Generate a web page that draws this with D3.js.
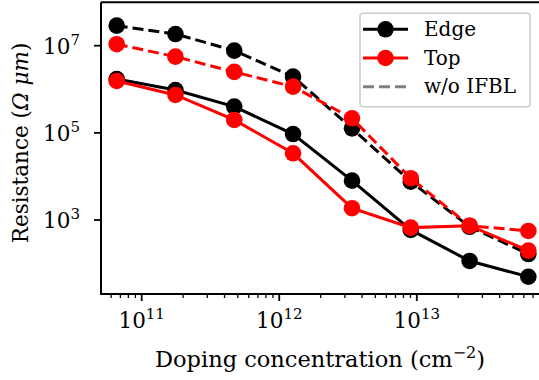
<!DOCTYPE html>
<html>
<head>
<meta charset="utf-8">
<script src="https://cdn.jsdelivr.net/npm/d3@7"></script>
<style>
  body { margin: 0; background: #fff; }
  svg { display: block; font-family: "DejaVu Serif", serif; }
</style>
</head>
<body>
<div id="chart"></div>
<script>
// doping concentration (cm^-2)
const doping = [6.58e10, 1.76e11, 4.71e11, 1.26e12, 3.38e12, 9.04e12, 2.42e13, 6.47e13];
// resistance (Ohm um)
const edge = [1.72e6, 9.6e5, 4.0e5, 9.4e4, 8.0e3, 593, 115, 50];
const top_ = [1.55e6, 7.4e5, 1.98e5, 3.4e4, 1.87e3, 670, 741, 199];
const edgeNoIFBL = [2.88e7, 1.85e7, 7.7e6, 1.95e6, 1.27e5, 7.6e3, 700, 166];
const topNoIFBL = [1.08e7, 5.6e6, 2.5e6, 1.15e6, 2.16e5, 9.1e3, 741, 562];

const xTickExps = [11, 12, 13];
const yTickExps = [3, 5, 7];

const width = 539, height = 380;
const plot = { left: 101, top: 2.3, right: 544, bottom: 294 };

const svg = d3.select("#chart").append("svg")
  .attr("width", width)
  .attr("height", height);

const x = d3.scaleLog().domain([5.06e10, 8.41e13]).range([plot.left, plot.right]);
const y = d3.scaleLog().domain([20.1, 9.89e7]).range([plot.bottom, plot.top]);

// series, drawn in this order
const series = [
  { values: edge, color: "#000", dashed: false },
  { values: edgeNoIFBL, color: "#000", dashed: true },
  { values: top_, color: "#ff0000", dashed: false },
  { values: topNoIFBL, color: "#ff0000", dashed: true },
];

const line = d3.line().x(d => x(d[0])).y(d => y(d[1]));

series.forEach(s => {
  const pts = doping.map((d, i) => [d, s.values[i]]);
  const g = svg.append("g");
  g.append("path")
    .attr("d", line(pts))
    .attr("fill", "none")
    .attr("stroke", s.color)
    .attr("stroke-width", 3)
    .attr("stroke-dasharray", s.dashed ? "11,5" : null);
  g.selectAll("circle").data(pts).join("circle")
    .attr("cx", d => x(d[0]))
    .attr("cy", d => y(d[1]))
    .attr("r", 8.3)
    .attr("fill", s.color);
});

// x ticks (major + minor)
const xAxis = svg.append("g").attr("transform", `translate(0,${plot.bottom})`);
const minorX = [];
for (let e = 10; e <= 13; e++) {
  for (let m = 2; m <= 9; m++) {
    const v = m * Math.pow(10, e);
    if (x(v) > plot.left && x(v) < width) minorX.push(v);
  }
}
xAxis.selectAll("line.minor").data(minorX).join("line")
  .attr("class", "minor")
  .attr("x1", d => x(d)).attr("x2", d => x(d))
  .attr("y1", 0).attr("y2", 4)
  .attr("stroke", "#000").attr("stroke-width", 1.3);
xAxis.selectAll("line.major").data(xTickExps).join("line")
  .attr("class", "major")
  .attr("x1", d => x(Math.pow(10, d))).attr("x2", d => x(Math.pow(10, d)))
  .attr("y1", 0).attr("y2", 7)
  .attr("stroke", "#000").attr("stroke-width", 1.8);
const xt = xAxis.selectAll("text").data(xTickExps).join("text")
  .attr("x", d => x(Math.pow(10, d)))
  .attr("y", 34)
  .attr("text-anchor", "middle")
  .attr("font-size", 21.5);
xt.append("tspan").text("10");
xt.append("tspan").attr("dy", -9).attr("font-size", 15).text(d => d);

// y ticks
const yAxis = svg.append("g").attr("transform", `translate(${plot.left},0)`);
yAxis.selectAll("line").data(yTickExps).join("line")
  .attr("x1", -7).attr("x2", 0)
  .attr("y1", d => y(Math.pow(10, d))).attr("y2", d => y(Math.pow(10, d)))
  .attr("stroke", "#000").attr("stroke-width", 1.8);
const yt = yAxis.selectAll("text").data(yTickExps).join("text")
  .attr("x", -21)
  .attr("y", d => y(Math.pow(10, d)) + 8)
  .attr("text-anchor", "end")
  .attr("font-size", 21.5);
yt.append("tspan").text("10");
yt.append("tspan").attr("dy", -9).attr("font-size", 15).text(d => d);

// spines
svg.append("path")
  .attr("d", `M${plot.left},${plot.top}V${plot.bottom}H${plot.right}M${plot.left},${plot.top}H${plot.right}`)
  .attr("fill", "none")
  .attr("stroke", "#000")
  .attr("stroke-width", 2);

// axis labels
const xl = svg.append("text")
  .attr("x", 320).attr("y", 367)
  .attr("text-anchor", "middle")
  .attr("font-size", 22.5);
xl.append("tspan").text("Doping concentration (cm");
xl.append("tspan").attr("dy", -9).attr("font-size", 16).text("\u22122");
xl.append("tspan").attr("dy", 9).text(")");

const yl = svg.append("text")
  .attr("transform", "translate(28,143) rotate(-90)")
  .attr("text-anchor", "middle")
  .attr("font-size", 21.5);
yl.append("tspan").text("Resistance (");
yl.append("tspan").attr("font-style", "italic").text("\u03A9 \u03BC");
yl.append("tspan").attr("font-style", "italic").text("m");
yl.append("tspan").text(")");

// legend
const legendItems = [
  { label: "Edge", color: "#000", marker: true, dashed: false },
  { label: "Top", color: "#ff0000", marker: true, dashed: false },
  { label: "w/o IFBL", color: "#808080", marker: false, dashed: true },
];
const lg = svg.append("g");
lg.append("rect")
  .attr("x", 360).attr("y", 13.3)
  .attr("width", 170).attr("height", 93.4)
  .attr("rx", 3)
  .attr("fill", "rgba(255,255,255,0.8)")
  .attr("stroke", "#cccccc")
  .attr("stroke-width", 1.5);
const rows = lg.selectAll("g.row").data(legendItems).join("g")
  .attr("class", "row")
  .attr("transform", (d, i) => `translate(0,${29.3 + i * 28.7})`);
rows.append("line")
  .attr("x1", 363).attr("x2", 408)
  .attr("stroke", d => d.color)
  .attr("stroke-width", 3)
  .attr("stroke-dasharray", d => d.dashed ? "11,5" : null);
rows.filter(d => d.marker).append("circle")
  .attr("cx", 385.5).attr("r", 8.3)
  .attr("fill", d => d.color);
rows.append("text")
  .attr("x", 424).attr("y", 6.5)
  .attr("font-size", 20)
  .text(d => d.label);
</script>
</body>
</html>
